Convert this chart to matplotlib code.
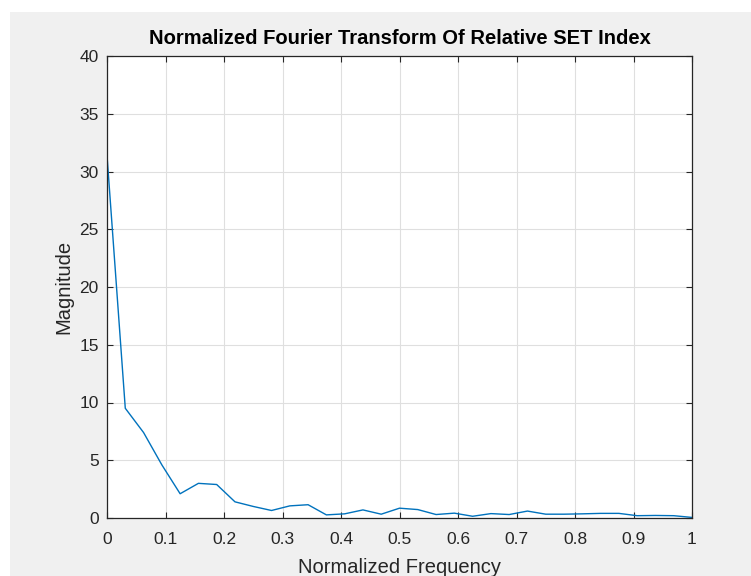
import numpy as np
import matplotlib
matplotlib.use("Agg")
from matplotlib import pyplot as plt
from matplotlib.patches import Rectangle

# magnitudes, 33 bins from 0 to 1
magnitude = [31.4, 9.5, 7.4, 4.6, 2.1, 3.0, 2.9, 1.4, 1.0, 0.65, 1.05,
             1.15, 0.27, 0.36, 0.7, 0.33, 0.85, 0.73, 0.3, 0.42, 0.15,
             0.38, 0.3, 0.6, 0.33, 0.33, 0.36, 0.4, 0.4, 0.2, 0.22,
             0.2, 0.05]
freq = np.linspace(0, 1, len(magnitude))
x_ticks = [0, 0.1, 0.2, 0.3, 0.4, 0.5, 0.6, 0.7, 0.8, 0.9, 1]
y_ticks = [0, 5, 10, 15, 20, 25, 30, 35, 40]

plt.rcParams['font.family'] = ['Liberation Sans', 'DejaVu Sans']
dark = '#262626'

fig = plt.figure(figsize=(7.51, 5.76), dpi=100)
fig.patch.set_facecolor('white')
# grey figure panel like the MATLAB window
fig.patches.append(Rectangle((10 / 751, 0), 1, 1 - 12 / 576,
                             transform=fig.transFigure, facecolor='#f0f0f0',
                             edgecolor='none', zorder=-1))

# (left, bottom, width, height)
ax = fig.add_axes((107 / 751, 58 / 576, 585 / 751, 462 / 576))
ax.set_facecolor('white')
ax.plot(freq, magnitude, color='#0072BD', lw=1.0)

ax.set_xlim(0, 1)
ax.set_ylim(0, 40)
ax.set_xticks(x_ticks)
ax.set_xticklabels(['0', '0.1', '0.2', '0.3', '0.4', '0.5', '0.6', '0.7',
                    '0.8', '0.9', '1'])
ax.set_yticks(y_ticks)
ax.grid(True, color='#dfdfdf', lw=0.8)
ax.set_axisbelow(True)
ax.tick_params(direction='in', top=True, right=True, length=4,
               width=0.8, colors=dark, labelsize=12.5)
ax.tick_params(axis='x', pad=10)
ax.tick_params(axis='y', pad=6)
for s in ax.spines.values():
    s.set_color(dark)
    s.set_linewidth(0.9)

ax.set_title('Normalized Fourier Transform Of Relative SET Index',
             fontsize=14.5, fontweight='bold', color='black', pad=9)
ax.set_xlabel('Normalized Frequency', fontsize=14.5, color=dark, labelpad=8)
ax.set_ylabel('Magnitude', fontsize=14.5, color=dark, labelpad=4)

fig.savefig('out.png', dpi=100)
